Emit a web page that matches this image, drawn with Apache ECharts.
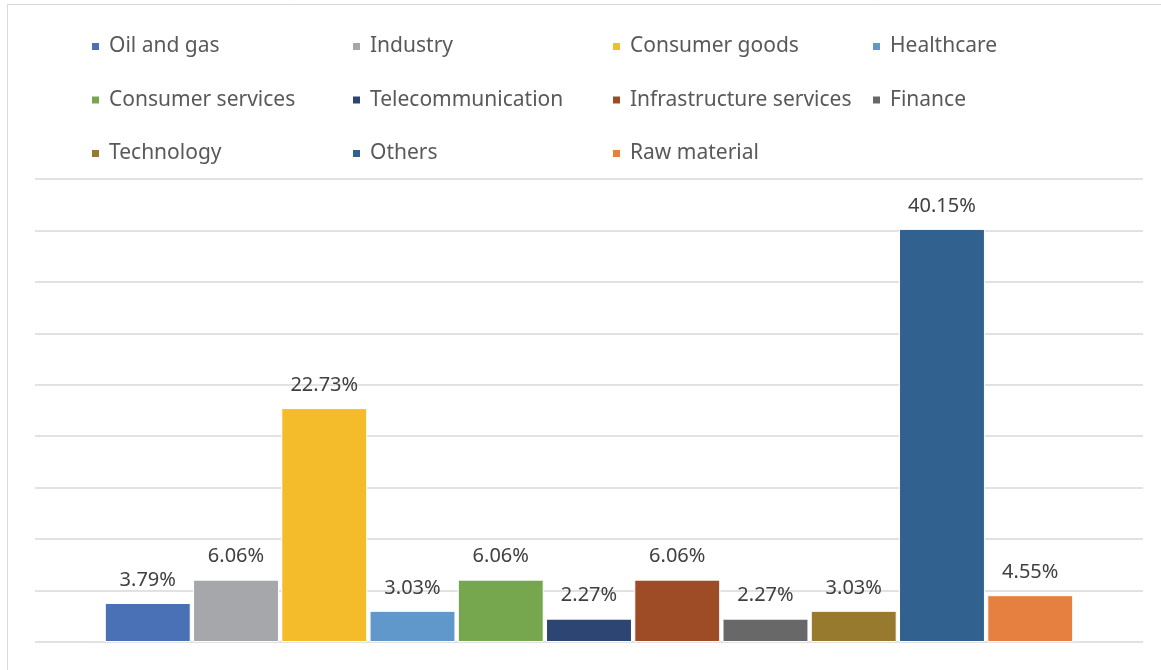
<!DOCTYPE html>
<html>
<head>
<meta charset="utf-8">
<script src="https://cdn.jsdelivr.net/npm/echarts@6/dist/echarts.min.js"></script>
<style>html,body{margin:0;padding:0;background:#fff}#c{width:1161px;height:670px}</style>
</head>
<body>
<div id="c"></div>
<script>
const seriesNames = ['Oil and gas','Industry','Consumer goods','Healthcare','Consumer services','Telecommunication','Infrastructure services','Finance','Technology','Others','Raw material'];
const seriesValues = [3.79, 6.06, 22.73, 3.03, 6.06, 2.27, 6.06, 2.27, 3.03, 40.15, 4.55];
const seriesColors = ['#4A70B6','#A6A7AA','#F4BB2B','#6198CB','#76A74E','#2C4573','#9E4C26','#686868','#977A2D','#31618F','#E58040'];
const legendColumns = [
  ['Oil and gas','Consumer services','Technology'],
  ['Industry','Telecommunication','Others'],
  ['Consumer goods','Infrastructure services','Raw material'],
  ['Healthcare','Finance']
];
const categories = [''];

const chart = echarts.init(document.getElementById('c'));
const legendLefts = [90, 351, 611, 871];
const option = {
  animation: false,
  textStyle: {fontFamily: 'Noto Sans'},
  graphic: [
    {type:'line', shape:{x1:7,y1:4.5,x2:1161,y2:4.5}, style:{stroke:'#d9d9d9',lineWidth:1}},
    {type:'line', shape:{x1:7.5,y1:4,x2:7.5,y2:670}, style:{stroke:'#d9d9d9',lineWidth:1}}
  ],
  legend: legendColumns.map((col, i) => ({
    data: col,
    orient: 'vertical',
    left: legendLefts[i],
    top: 35,
    itemWidth: 9,
    itemHeight: 9,
    itemGap: 30.5,
    padding: 0,
    icon: 'rect',
    selectedMode: false,
    textStyle: {fontFamily: 'Noto Sans', fontSize: 21, lineHeight: 21, color: '#595959', padding: [2, 0, 0, 4]}
  })),
  grid: {left: 35, right: 18, top: 179, bottom: 28, containLabel: false},
  xAxis: {
    type: 'category',
    data: categories,
    axisLine: {show: false},
    axisTick: {show: false},
    axisLabel: {show: false}
  },
  yAxis: {
    type: 'value',
    min: 0, max: 45, interval: 5,
    axisLabel: {show: false},
    axisLine: {show: false},
    axisTick: {show: false},
    splitLine: {lineStyle: {color: '#d9d9d9', width: 1.5}}
  },
  series: seriesNames.map((name, i) => ({
    name: name,
    type: 'bar',
    data: [seriesValues[i]],
    barGap: '2.7%',
    barCategoryGap: '12.6%',
    itemStyle: {color: seriesColors[i], borderColor: '#fff', borderWidth: 1},
    label: {
      show: true,
      position: 'top',
      distance: 13,
      fontFamily: 'Noto Sans',
      fontSize: 20,
      color: '#404040',
      formatter: p => p.value.toFixed(2) + '%'
    }
  }))
};
chart.setOption(option);
</script>
</body>
</html>
